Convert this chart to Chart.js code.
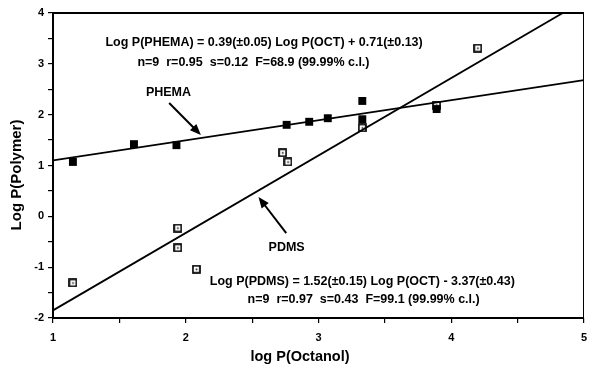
<!DOCTYPE html>
<html>
<head>
<meta charset="utf-8">
<script src="https://cdn.jsdelivr.net/npm/chart.js@4"></script>
<style>
  html, body { margin: 0; padding: 0; background: #fff; }
  #wrap { width: 590px; height: 366px; }
</style>
</head>
<body>
<div id="wrap"><canvas id="chart" width="590" height="366"></canvas></div>
<script>
// log P(octanol) vs log P(polymer)
var phemaX = [1.15, 1.61, 1.93, 2.76, 2.93, 3.07, 3.33, 3.33, 3.89];
var phemaY = [1.07, 1.42, 1.40, 1.80, 1.86, 1.93, 2.27, 1.91, 2.11];
var pdmsX = [1.15, 1.94, 1.94, 2.08, 2.73, 2.77, 3.33, 3.89, 4.20];
var pdmsY = [-1.31, -0.23, -0.62, -1.04, 1.25, 1.07, 1.74, 2.19, 3.31];

// fitted lines, end points as they appear in the plot
var phemaFitX = [1, 5];
var phemaFitY = [1.10, 2.68];
var pdmsFitX = [1, 4.84];
var pdmsFitY = [-1.85, 4.0];

var xTicks = [1, 2, 3, 4, 5];
var yTicks = [-2, -1, 0, 1, 2, 3, 4];

var FONT = '"Liberation Sans", Arial, Helvetica, sans-serif';

function pts(xs, ys) {
    return xs.map(function (x, i) { return { x: x, y: ys[i] }; });
}

// open square with a dot, like the PDMS marks
function openSquare() {
    var c = document.createElement('canvas');
    c.width = 9; c.height = 9;
    var g = c.getContext('2d');
    g.strokeStyle = '#000';
    g.lineWidth = 1.7;
    g.strokeRect(1, 1, 7, 7);
    g.fillStyle = '#000';
    g.fillRect(3.8, 3.8, 1.6, 1.6);
    return c;
}

// text and arrows, placed in data units
var notes = [
    { text: 'Log P(PHEMA) = 0.39(\u00b10.05) Log P(OCT) + 0.71(\u00b10.13)', x: 2.59, y: 3.41 },
    { text: 'n=9  r=0.95  s=0.12  F=68.9 (99.99% c.l.)', x: 2.51, y: 3.02 },
    { text: 'PHEMA', x: 1.87, y: 2.43 },
    { text: 'PDMS', x: 2.76, y: -0.62 },
    { text: 'Log P(PDMS) = 1.52(\u00b10.15) Log P(OCT) - 3.37(\u00b10.43)', x: 3.33, y: -1.29 },
    { text: 'n=9  r=0.97  s=0.43  F=99.1 (99.99% c.l.)', x: 3.34, y: -1.63 }
];
var arrows = [
    { x0: 1.875, y0: 2.23, x1: 2.114, y1: 1.60 },
    { x0: 2.757, y0: -0.33, x1: 2.548, y1: 0.38 }
];

var decorations = {
    id: 'decorations',
    afterDatasetsDraw: function (chart) {
        var ctx = chart.ctx, a = chart.chartArea;
        var sx = chart.scales.x, sy = chart.scales.y;
        ctx.save();
        ctx.strokeStyle = '#000';
        ctx.fillStyle = '#000';

        // frame
        ctx.lineWidth = 2;
        ctx.beginPath();
        ctx.moveTo(a.right, a.top);
        ctx.lineTo(a.left, a.top);
        ctx.lineTo(a.left, a.bottom);
        ctx.lineTo(a.right, a.bottom);
        ctx.stroke();
        ctx.lineWidth = 1;
        ctx.beginPath();
        ctx.moveTo(a.right - 0.5, a.top);
        ctx.lineTo(a.right - 0.5, a.bottom);
        ctx.stroke();

        // notes
        ctx.font = 'bold 12.5px ' + FONT;
        ctx.textAlign = 'center';
        ctx.textBaseline = 'middle';
        notes.forEach(function (n) {
            ctx.fillText(n.text, sx.getPixelForValue(n.x), sy.getPixelForValue(n.y));
        });

        // arrows
        arrows.forEach(function (r) {
            var x0 = sx.getPixelForValue(r.x0), y0 = sy.getPixelForValue(r.y0);
            var x1 = sx.getPixelForValue(r.x1), y1 = sy.getPixelForValue(r.y1);
            var ang = Math.atan2(y1 - y0, x1 - x0);
            var hl = 11, hw = 4.5;
            ctx.lineWidth = 2;
            ctx.beginPath();
            ctx.moveTo(x0, y0);
            ctx.lineTo(x1 - Math.cos(ang) * hl * 0.8, y1 - Math.sin(ang) * hl * 0.8);
            ctx.stroke();
            ctx.beginPath();
            ctx.moveTo(x1, y1);
            ctx.lineTo(x1 - Math.cos(ang) * hl - Math.sin(ang) * hw, y1 - Math.sin(ang) * hl + Math.cos(ang) * hw);
            ctx.lineTo(x1 - Math.cos(ang) * hl + Math.sin(ang) * hw, y1 - Math.sin(ang) * hl - Math.cos(ang) * hw);
            ctx.closePath();
            ctx.fill();
        });

        // axis titles
        ctx.font = 'bold 14.5px ' + FONT;
        ctx.fillText('log P(Octanol)', 300, 357);
        ctx.save();
        ctx.translate(17, 175);
        ctx.rotate(-Math.PI / 2);
        ctx.font = 'bold 15px ' + FONT;
        ctx.fillText('Log P(Polymer)', 0, 0);
        ctx.restore();

        ctx.restore();
    }
};

new Chart(document.getElementById('chart'), {
    type: 'scatter',
    data: {
        datasets: [
            {
                label: 'PHEMA',
                data: pts(phemaX, phemaY),
                pointStyle: 'rect',
                pointRadius: 5.6,
                backgroundColor: '#000',
                borderColor: '#000',
                borderWidth: 0,
                order: 1
            },
            {
                label: 'PDMS',
                data: pts(pdmsX, pdmsY),
                pointStyle: openSquare(),
                pointRadius: 5,
                order: 1
            },
            {
                type: 'line',
                label: 'PHEMA fit',
                data: pts(phemaFitX, phemaFitY),
                borderColor: '#000',
                borderWidth: 1.8,
                pointRadius: 0,
                fill: false,
                order: 2
            },
            {
                type: 'line',
                label: 'PDMS fit',
                data: pts(pdmsFitX, pdmsFitY),
                borderColor: '#000',
                borderWidth: 1.8,
                pointRadius: 0,
                fill: false,
                order: 2
            }
        ]
    },
    options: {
        responsive: false,
        animation: false,
        layout: { padding: { left: 0, top: 13, right: 2, bottom: 0 } },
        plugins: {
            legend: { display: false },
            tooltip: { enabled: false }
        },
        scales: {
            x: {
                type: 'linear',
                min: 1,
                max: 5,
                ticks: {
                    stepSize: 0.5,
                    color: '#000',
                    padding: 8,
                    maxRotation: 0,
                    autoSkip: false,
                    font: { family: FONT, size: 11, weight: 'bold' },
                    callback: function (v) { return xTicks.indexOf(v) >= 0 ? String(v) : ''; }
                },
                grid: {
                    drawOnChartArea: false,
                    drawTicks: true,
                    tickLength: 5,
                    color: '#000',
                    lineWidth: 1.2
                },
                border: { display: false },
                afterFit: function (s) {
                    s.height = 48;
                    s.paddingLeft = 0;
                    s.paddingRight = 0;
                }
            },
            y: {
                type: 'linear',
                min: -2,
                max: 4,
                ticks: {
                    stepSize: 0.5,
                    color: '#000',
                    padding: 4,
                    autoSkip: false,
                    font: { family: FONT, size: 11, weight: 'bold' },
                    callback: function (v) { return yTicks.indexOf(v) >= 0 ? String(v) : ''; }
                },
                grid: {
                    drawOnChartArea: false,
                    drawTicks: true,
                    tickLength: 5,
                    color: '#000',
                    lineWidth: 1.2
                },
                border: { display: false },
                afterFit: function (s) {
                    s.width = 53;
                    s.paddingTop = 0;
                    s.paddingBottom = 0;
                }
            }
        }
    },
    plugins: [decorations]
});
</script>
</body>
</html>
